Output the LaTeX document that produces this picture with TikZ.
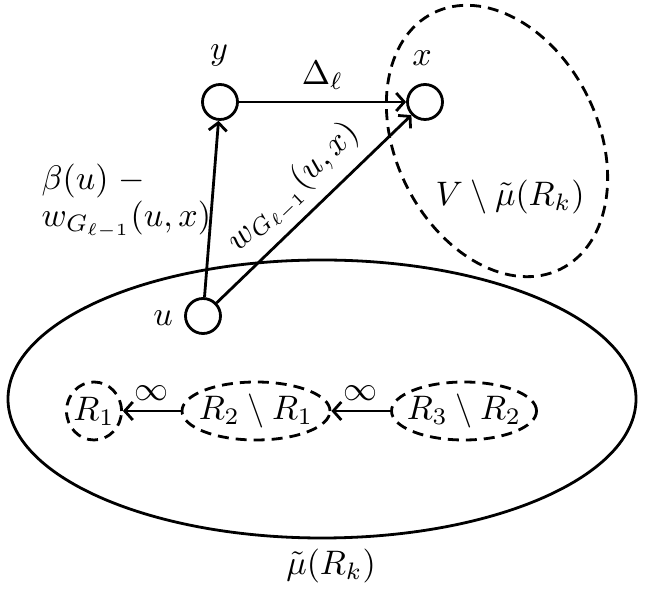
\documentclass[tikz,border=0pt]{standalone}
\usetikzlibrary{arrows.meta,shapes.geometric}
\begin{document}
\begin{tikzpicture}[x=1pt,y=1pt,
  thick line/.style={line width=2.8pt},
  vertex/.style={circle,draw,thick line,minimum size=35pt,inner sep=0pt},
  region/.style={ellipse,draw,thick line,dash pattern=on 11pt off 7pt,inner sep=0pt},
  arr/.style={thick line,-{Straight Barb[length=8pt,width=18pt,line width=2.8pt]}},
  lab/.style={inner sep=0pt,scale=3.4}]
\useasboundingbox (0,0) rectangle (653,607);
% big solid ellipse
\draw[thick line] (322,208) ellipse [x radius=314pt, y radius=139pt];
\node[lab] (mulab) at (331,41) {$\tilde{\mu}(R_k)$};
% dashed region V \ mu(R_k)
\begin{scope}[rotate around={26.5:(497,466)}]
\draw[thick line,dash pattern=on 11pt off 7pt] (497,466) ellipse [x radius=101pt, y radius=143pt];
\end{scope}
\node[lab] (vlab) at (510,410) {$V\setminus\tilde{\mu}(R_k)$};
% vertices
\node[vertex] (u) at (203,291) {};
\node[vertex] (y) at (220,505) {};
\node[vertex] (x) at (425,505) {};
\node[lab] (ulab) at (163,289) {$u$};
\node[lab] (ylab) at (219,552) {$y$};
\node[lab] (xlab) at (422,549) {$x$};
% edges
\draw[arr] (y) -- node[lab,above=2.2pt] {$\Delta_\ell$} (x);
\draw[arr] (u) -- (y);
\draw[arr] (u) -- node[lab,sloped,above=1.5pt,pos=0.5] {$w_{G_{\ell-1}}(u,x)$} (x);
\node[lab,anchor=west,align=left,font=\fontsize{10}{9.8}\selectfont] (blab) at (41,406) {$\beta(u)\;-$\\$w_{G_{\ell-1}}(u,x)$};
% chain of regions
\node[region,minimum width=55pt,minimum height=58pt] (r1) at (94,196) {};
\node[region,minimum width=148pt,minimum height=58pt] (r2) at (256,196) {};
\node[region,minimum width=145pt,minimum height=58pt] (r3) at (464,196) {};
\node[lab] (r1t) at (r1) {$R_1$};
\node[lab] (r2t) at (r2) {$R_2\setminus R_1$};
\node[lab] (r3t) at (r3) {$R_3\setminus R_2$};
\draw[arr] (r2) -- node[lab,above=1.8pt] {$\infty$} (r1);
\draw[arr] (r3) -- node[lab,above=1.8pt] {$\infty$} (r2);
\end{tikzpicture}
\end{document}
